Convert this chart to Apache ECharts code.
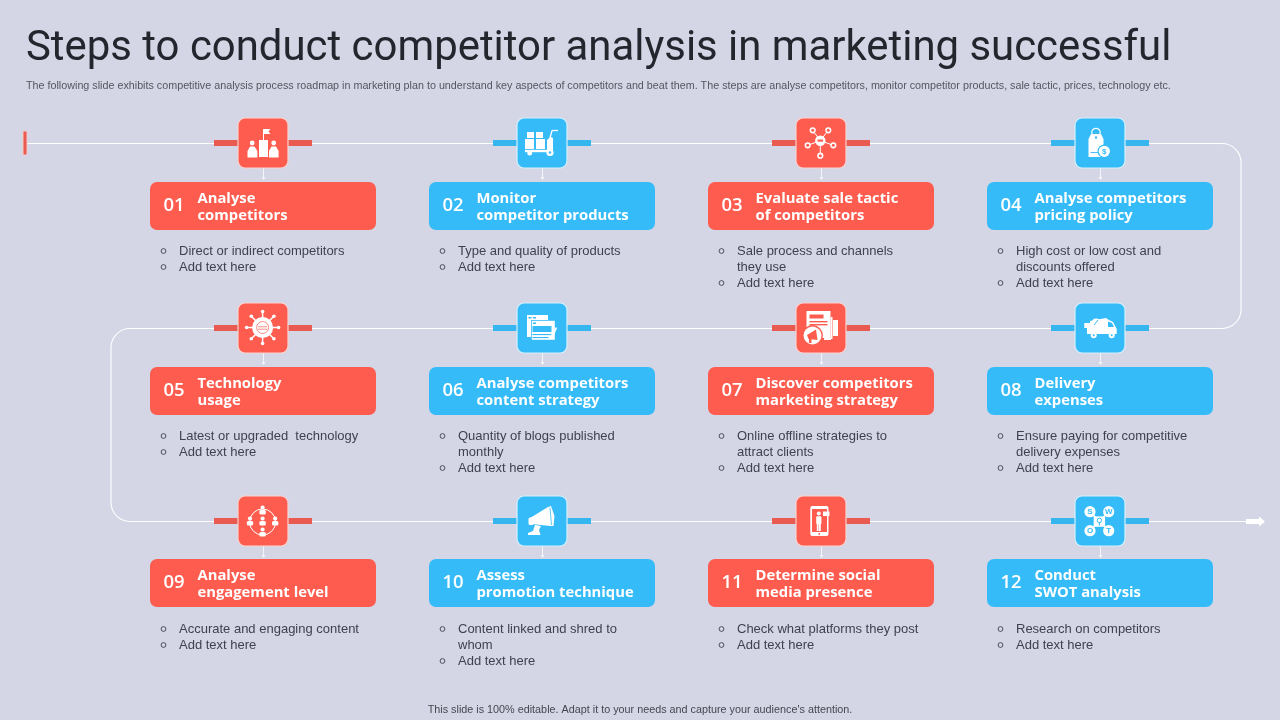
<!DOCTYPE html>
<html>
<head>
<meta charset="utf-8">
<style>html,body{margin:0;padding:0;background:#d4d6e6}#main{width:1280px;height:720px}</style>
<script src="https://cdn.jsdelivr.net/npm/echarts@6/dist/echarts.min.js"></script>
</head>
<body>
<div id="main"></div>
<script>
var headline = 'Steps to conduct competitor analysis in marketing successful';
var intro = 'The following slide exhibits competitive analysis process roadmap in marketing plan to understand key aspects of competitors and beat them. The steps are analyse competitors, monitor competitor products, sale tactic, prices, technology etc.';
var footer = "This slide is 100% editable. Adapt it to your needs and capture your audience's attention.";
var columns = ['c1', 'c2', 'c3', 'c4'];
var rows = ['r1', 'r2', 'r3'];
var stepNumbers = ['01', '02', '03', '04', '05', '06', '07', '08', '09', '10', '11', '12'];
var stepTitles = [
  'Analyse\ncompetitors', 'Monitor\ncompetitor products', 'Evaluate sale tactic\nof competitors', 'Analyse competitors\npricing policy',
  'Technology\nusage', 'Analyse competitors\ncontent strategy', 'Discover competitors\nmarketing strategy', 'Delivery\nexpenses',
  'Analyse\nengagement level', 'Assess\npromotion technique', 'Determine social\nmedia presence', 'Conduct\nSWOT analysis'
];
var stepBullets = [
  ['Direct or indirect competitors', 'Add text here'],
  ['Type and quality of products', 'Add text here'],
  ['Sale process and channels\nthey use', 'Add text here'],
  ['High cost or low cost and\ndiscounts offered', 'Add text here'],
  ['Latest or upgraded  technology', 'Add text here'],
  ['Quantity of blogs published\nmonthly', 'Add text here'],
  ['Online offline strategies to\nattract clients', 'Add text here'],
  ['Ensure paying for competitive\ndelivery expenses', 'Add text here'],
  ['Accurate and engaging content', 'Add text here'],
  ['Content linked and shred to\nwhom', 'Add text here'],
  ['Check what platforms they post', 'Add text here'],
  ['Research on competitors', 'Add text here']
];

var RED = '#fd5c4f', BLUE = '#35bbf8', RED_BAR = '#e95a50', BLUE_BAR = '#36b6ef';
var RED_EDGE = '#fbd3cf', BLUE_EDGE = '#d5f0fc', WHITE = '#ffffff', INK = '#40414f';
var rowNudge = [0, -4, 0];

// small helpers for the icon pieces, coordinates are inside the 50x50 tile
function rect(x, y, w, h, fill, r) {
  return { type: 'rect', shape: { x: x, y: y, width: w, height: h, r: r || 0 }, style: { fill: fill } };
}
function circ(cx, cy, r, fill) {
  return { type: 'circle', shape: { cx: cx, cy: cy, r: r }, style: { fill: fill } };
}
function ring(cx, cy, r, stroke, lw) {
  return { type: 'circle', shape: { cx: cx, cy: cy, r: r }, style: { fill: 'none', stroke: stroke, lineWidth: lw || 1 } };
}
function poly(points, fill) {
  return { type: 'polygon', shape: { points: points }, style: { fill: fill } };
}
function line(x1, y1, x2, y2, stroke, lw) {
  return { type: 'line', shape: { x1: x1, y1: y1, x2: x2, y2: y2 }, style: { stroke: stroke, lineWidth: lw || 1 } };
}
function label(t, x, y, fill, size) {
  return { type: 'text', style: { text: t, x: x, y: y, fill: fill, font: 'bold ' + size + 'px "Liberation Sans"', align: 'center', verticalAlign: 'middle' } };
}
function person(x, y, s, c) {
  return [circ(x, y, 2.1 * s, c), rect(x - 3.2 * s, y + 2.6 * s, 6.4 * s, 4.4 * s, c, 1.5 * s)];
}

var icons = [
  function (t) { // podium
    return [
      rect(21, 22, 9, 17, WHITE),
      line(25.5, 11, 25.5, 22, WHITE, 1),
      poly([[25.5, 11], [32.5, 11], [30.5, 13.5], [32.5, 16], [25.5, 16]], WHITE),
      circ(14.2, 25, 2.4, WHITE), poly([[12, 28.5], [16.5, 28.5], [19.4, 33], [19.4, 39.5], [9.5, 39.5], [9.5, 33]], WHITE),
      circ(35.7, 25, 2.4, WHITE), poly([[33.5, 28.5], [38, 28.5], [40.6, 33], [40.6, 39.5], [31, 39.5], [31, 33]], WHITE)
    ];
  },
  function (t) { // trolley with boxes
    return [
      rect(10, 14, 7, 6, WHITE), rect(19, 14, 7, 6, WHITE),
      rect(8, 21, 9, 10, WHITE), rect(19, 21, 9, 10, WHITE),
      rect(8, 31.8, 23, 2.4, WHITE),
      circ(12.7, 35.2, 2.4, WHITE),
      poly([[30, 22], [33.5, 19], [36, 20], [36, 34], [30, 34]], WHITE),
      line(33, 20, 35, 12.5, WHITE, 1.3), line(35, 12.5, 41, 12.5, WHITE, 1.3),
      circ(33, 34.5, 3.6, WHITE), circ(33, 34.5, 1.2, t)
    ];
  },
  function (t) { // network
    var sats = [[16.7, 12.3], [32.3, 12.3], [11.7, 27.3], [37.3, 27.3], [24.3, 37.7]];
    var out = [];
    sats.forEach(function (s) {
      out.push(line(24.3, 22.7, s[0], s[1], WHITE, 1));
      out.push(circ(s[0], s[1], 3.1, WHITE), circ(s[0], s[1], 1.5, t));
    });
    out.push(circ(24.3, 22.7, 5.2, WHITE), rect(21.5, 21.5, 5.6, 2.2, t));
    return out;
  },
  function (t) { // price tag
    return [
      ring(21, 14.5, 4.2, WHITE, 1.2),
      poly([[16, 16], [26, 16], [28.5, 21], [28.5, 39], [13.5, 39], [13.5, 21]], WHITE),
      circ(21, 19.5, 1.2, t), rect(15.5, 34, 8, 0.9, t),
      circ(29.3, 33.3, 6.8, t), circ(29.3, 33.3, 5.6, WHITE),
      label('$', 29.3, 33.6, t, 8)
    ];
  },
  function (t) { // hub with spokes
    var out = [];
    for (var i = 0; i < 8; i++) {
      var a = i * Math.PI / 4 + Math.PI / 2;
      var cx = 24.6, cy = 24.5;
      out.push(line(cx, cy, cx + 16 * Math.cos(a), cy + 16 * Math.sin(a), WHITE, 1.5));
      out.push(circ(cx + 16 * Math.cos(a), cy + 16 * Math.sin(a), 1.8, WHITE));
    }
    out.push(circ(24.6, 24.5, 10.5, WHITE), ring(24.6, 24.5, 6, t, 0.7),
      rect(20, 23.5, 9.2, 0.7, t), rect(20, 25.8, 9.2, 0.7, t));
    return out;
  },
  function (t) { // stacked documents
    return [
      rect(10, 12, 21, 22, WHITE), rect(11.5, 14, 3, 1.5, t), rect(16, 14, 3, 1.5, t),
      rect(14, 17, 24, 20, t), rect(14.8, 17.8, 23, 19, WHITE), rect(16, 19.5, 3, 1.5, t),
      rect(15.5, 23, 19, 6, t), rect(15.5, 31, 20, 1.1, t), rect(15.5, 34, 16, 1.1, t),
      poly([[34, 32], [39, 24], [40, 25], [36, 35]], WHITE)
    ];
  },
  function (t) { // document with megaphone badge
    return [
      rect(10.5, 8, 24, 27, WHITE), rect(13.5, 11.5, 14, 4, t), rect(13.5, 18, 18, 1.4, t), rect(13.5, 21, 18, 1.4, t),
      rect(34.5, 14, 2, 22, WHITE), rect(37, 17, 5, 16, WHITE),
      rect(28, 35, 7, 2, WHITE),
      circ(16.5, 32.5, 10.4, t), circ(16.5, 32.5, 9, WHITE),
      poly([[11, 32], [20, 26.5], [21.5, 37], [12.5, 36]], t), rect(13, 36, 2.5, 4, t)
    ];
  },
  function (t) { // delivery truck
    return [
      poly([[15, 18], [31, 15], [34, 17], [38, 19], [41.7, 26], [41.7, 31], [12, 31], [12, 25], [9.3, 25], [9.3, 20], [15, 20]], WHITE),
      poly([[33, 18.5], [37, 20], [39, 24], [33, 24]], t),
      circ(21, 19.5, 4, WHITE), line(19, 22, 23, 17, t, 1),
      circ(18.7, 32.2, 3, WHITE), circ(18.7, 32.2, 1, t),
      circ(36.7, 32.2, 3, WHITE), circ(36.7, 32.2, 1, t)
    ];
  },
  function (t) { // people in a circle
    return [].concat(
      [ring(24.6, 26, 13, WHITE, 1)],
      person(24.6, 11.5, 1, WHITE),
      person(12, 22.5, 1, WHITE), person(24.6, 22.5, 1, WHITE), person(37.2, 22.5, 1, WHITE),
      person(24.6, 33.5, 1, WHITE)
    );
  },
  function (t) { // megaphone
    return [
      poly([[13, 22], [31, 11], [34, 10], [37.5, 20], [36.5, 30], [33.5, 30], [14, 28]], WHITE),
      rect(11.5, 21.5, 5, 7.5, WHITE, 1.5),
      line(33, 11.5, 34.5, 29, t, 0.8),
      poly([[18, 29], [24, 30], [22, 34], [23.5, 39], [11, 39], [11, 37], [16, 35]], WHITE)
    ];
  },
  function (t) { // phone with presenter
    return [
      rect(14.3, 10, 18.2, 30, WHITE, 2), rect(16, 13, 15, 23, t),
      circ(22.8, 17.5, 2, WHITE), rect(20.2, 20.2, 5.2, 8, WHITE, 1), rect(20.8, 28, 1.8, 7, WHITE), rect(23, 28, 1.8, 7, WHITE),
      rect(27, 15.5, 6.5, 4.5, WHITE), circ(23.3, 38, 0.9, t)
    ];
  },
  function (t) { // SWOT
    return [
      line(15, 15.7, 33.7, 34.7, WHITE, 1.5), line(33.7, 15.7, 15, 34.7, WHITE, 1.5),
      circ(15, 15.7, 5.6, WHITE), label('S', 15, 16, t, 8),
      circ(33.7, 15.7, 5.6, WHITE), label('W', 33.7, 16, t, 8),
      circ(15, 34.7, 5.6, WHITE), label('O', 15, 35, t, 8),
      circ(33.7, 34.7, 5.6, WHITE), label('T', 33.7, 35, t, 8),
      rect(18.7, 20.4, 11.4, 10.4, WHITE), ring(24.4, 24.4, 2.2, t, 1), rect(23.9, 26.5, 1, 3, t)
    ];
  }
];

var stepData = stepNumbers.map(function (n, i) {
  return [columns[i % 4], rows[Math.floor(i / 4)], i];
});

function rowY(api, r) {
  return api.coord([0, r])[1] + rowNudge[r];
}

function renderStep(params, api) {
  var colIndex = api.value(0), rowIndex = api.value(1), i = api.value(2);
  var p = api.coord([colIndex, rowIndex]);
  var x = p[0], y = rowY(api, rowIndex);
  var even = i % 2 === 1;
  var fill = even ? BLUE : RED, bar = even ? BLUE_BAR : RED_BAR, edge = even ? BLUE_EDGE : RED_EDGE;
  var cardTop = rowIndex === 2 ? y + 38 : y + 39;
  var children = [
    rect(x - 49, y - 3, 24, 6, bar),
    rect(x + 25, y - 3, 24, 6, bar),
    line(x + 0.5, y + 25, x + 0.5, y + 36, '#f4f5fa', 1),
    poly([[x - 1.5, y + 34], [x + 2.5, y + 34], [x + 0.5, y + 37]], '#f4f5fa'),
    { type: 'rect', shape: { x: x - 25, y: y - 25, width: 50, height: 50, r: 7 }, style: { fill: fill, stroke: edge, lineWidth: 1.2 } },
    { type: 'group', x: x - 25, y: y - 25, children: icons[i](fill) },
    rect(x - 113, cardTop, 226, 48, fill, 7),
    { type: 'text', style: { text: stepNumbers[i], x: x - 89, y: cardTop + 24, fill: WHITE, font: '600 18.5px "Open Sans"', align: 'center', verticalAlign: 'middle' } },
    { type: 'text', style: { text: stepTitles[i], x: x - 65.5, y: cardTop + 25, fill: WHITE, font: 'bold 14.8px "Open Sans"', lineHeight: 17, align: 'left', verticalAlign: 'middle' } }
  ];
  var lineNo = 0;
  stepBullets[i].forEach(function (b) {
    var by = y + 108 + lineNo * 16;
    children.push(ring(x - 99.5, by, 2.4, INK, 0.9));
    children.push({ type: 'text', style: { text: b, x: x - 84, y: by - 7.5, fill: INK, font: '13px "Liberation Sans"', lineHeight: 16, align: 'left', verticalAlign: 'top' } });
    lineNo += b.split('\n').length;
  });
  return { type: 'group', children: children };
}

function renderRoute(params, api) {
  var y0 = rowY(api, 0) + 0.5, y1 = rowY(api, 1) + 0.5, y2 = rowY(api, 2) + 0.5;
  var left = 111, right = 1241, r = 19;
  var w = 1.1;
  function arc(cx, cy, a0, a1) {
    return { type: 'arc', shape: { cx: cx, cy: cy, r: r, startAngle: a0, endAngle: a1 }, style: { stroke: WHITE, lineWidth: w, fill: 'none' } };
  }
  return {
    type: 'group',
    children: [
      line(27, y0, right - r, y0, WHITE, w),
      arc(right - r, y0 + r, -Math.PI / 2, 0),
      line(right, y0 + r, right, y1 - r, WHITE, w),
      arc(right - r, y1 - r, 0, Math.PI / 2),
      line(right - r, y1, left + r, y1, WHITE, w),
      arc(left + r, y1 + r, Math.PI, Math.PI * 1.5),
      line(left, y1 + r, left, y2 - r, WHITE, w),
      arc(left + r, y2 - r, Math.PI / 2, Math.PI),
      line(left + r, y2, 1250, y2, WHITE, w),
      { type: 'rect', shape: { x: 23, y: y0 - 12.5, width: 4, height: 24, r: 1 }, style: { fill: RED_BAR, stroke: '#f4c9c6', lineWidth: 1 } },
      poly([[1246, y2 - 2.5], [1259, y2 - 2.5], [1259, y2 - 5], [1265, y2], [1259, y2 + 5], [1259, y2 + 2.5], [1246, y2 + 2.5]], WHITE)
    ]
  };
}

var myChart = echarts.init(document.getElementById('main'), null, { renderer: 'canvas' });
myChart.setOption({
  backgroundColor: '#d4d6e6',
  animation: false,
  title: [
    { text: headline, left: 21, top: 24, textStyle: { fontFamily: 'Roboto', fontWeight: 400, fontSize: 41.9, color: '#24262e' } },
    { text: intro, left: 21, top: 76, textStyle: { fontFamily: 'Liberation Sans', fontWeight: 400, fontSize: 10.75, color: '#55565f' } },
    { text: footer, left: 'center', top: 700, textStyle: { fontFamily: 'Liberation Sans', fontWeight: 400, fontSize: 10.8, color: '#45464f' } }
  ],
  grid: { left: 123.5, width: 1116, top: 48.5, height: 567 },
  xAxis: { type: 'category', data: columns, show: false },
  yAxis: { type: 'category', data: rows, inverse: true, show: false },
  tooltip: { show: false },
  series: [
    { type: 'custom', data: [[columns[0], rows[0]]], renderItem: renderRoute, clip: false, silent: true, z: 1 },
    { type: 'custom', data: stepData, renderItem: renderStep, clip: false, silent: true, z: 2 }
  ]
});
</script>
</body>
</html>
